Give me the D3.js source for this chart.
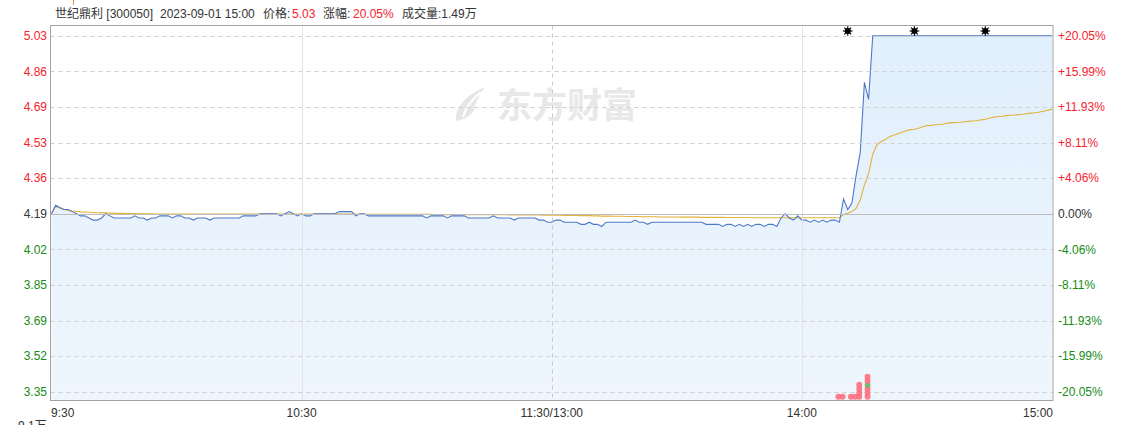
<!DOCTYPE html>
<html><head><meta charset="utf-8">
<script src="https://cdn.jsdelivr.net/npm/d3@7"></script>
<style>
body{margin:0;background:#fff}
svg{display:block}
text{font-family:"Liberation Sans","Noto Sans CJK SC",Arial,sans-serif}
</style>
</head><body><svg id="c" width="1139" height="425"></svg>
<script>
// ---------- data ----------
const prevClose = 4.19;
const priceTickLabels = ["3.35","3.52","3.69","3.85","4.02","4.19","4.36","4.53","4.69","4.86","5.03"];
const pctTickLabels = ["-20.05%","-15.99%","-11.93%","-8.11%","-4.06%","0.00%","+4.06%","+8.11%","+11.93%","+15.99%","+20.05%"];
const timeTicks = [0, 60, 120, 180, 240];
const timeLabels = ["9:30", "10:30", "11:30/13:00", "14:00", "15:00"];

const price = [
4.19,4.23,4.22,4.21,4.21,4.20,4.19,4.18,4.18,4.17,
4.16,4.16,4.17,4.19,4.18,4.17,4.17,4.17,4.17,4.17,
4.18,4.17,4.17,4.16,4.17,4.17,4.18,4.18,4.18,4.17,
4.18,4.18,4.17,4.17,4.16,4.17,4.17,4.17,4.16,4.17,
4.17,4.17,4.17,4.17,4.17,4.17,4.18,4.18,4.18,4.18,
4.19,4.19,4.19,4.19,4.19,4.18,4.19,4.20,4.19,4.18,
4.19,4.18,4.18,4.19,4.19,4.19,4.19,4.19,4.19,4.20,
4.20,4.20,4.20,4.18,4.19,4.19,4.18,4.18,4.18,4.18,
4.18,4.18,4.18,4.18,4.18,4.18,4.18,4.18,4.18,4.18,
4.17,4.18,4.18,4.18,4.18,4.17,4.18,4.18,4.18,4.18,
4.17,4.17,4.17,4.17,4.17,4.17,4.18,4.17,4.17,4.17,
4.17,4.16,4.17,4.17,4.17,4.17,4.17,4.16,4.16,4.15,
4.15,4.16,4.16,4.15,4.15,4.15,4.15,4.14,4.14,4.15,
4.14,4.14,4.13,4.15,4.15,4.15,4.15,4.15,4.15,4.15,
4.16,4.15,4.15,4.14,4.15,4.15,4.15,4.15,4.15,4.15,
4.15,4.15,4.15,4.15,4.15,4.15,4.15,4.14,4.14,4.14,
4.14,4.13,4.14,4.14,4.13,4.14,4.13,4.14,4.13,4.14,
4.14,4.13,4.14,4.14,4.13,4.17,4.19,4.17,4.16,4.18,
4.16,4.16,4.15,4.16,4.15,4.16,4.15,4.16,4.16,4.15,
4.26,4.21,4.24,4.37,4.48,4.81,4.73,5.03,5.03,5.03,
5.03,5.03,5.03,5.03,5.03,5.03,5.03,5.03,5.03,5.03,
5.03,5.03,5.03,5.03,5.03,5.03,5.03,5.03,5.03,5.03,
5.03,5.03,5.03,5.03,5.03,5.03,5.03,5.03,5.03,5.03,
5.03,5.03,5.03,5.03,5.03,5.03,5.03,5.03,5.03,5.03,
5.03
];

const avgPrice = [
4.190,4.224,4.216,4.210,4.206,4.203,4.201,4.199,4.198,4.197,
4.196,4.195,4.194,4.194,4.193,4.193,4.192,4.192,4.191,4.191,
4.191,4.190,4.190,4.190,4.190,4.189,4.189,4.189,4.189,4.189,
4.189,4.189,4.189,4.189,4.189,4.188,4.188,4.188,4.188,4.188,
4.188,4.188,4.188,4.188,4.188,4.188,4.188,4.188,4.188,4.188,
4.188,4.188,4.188,4.188,4.188,4.188,4.188,4.188,4.188,4.188,
4.188,4.188,4.188,4.188,4.188,4.188,4.188,4.188,4.188,4.188,
4.188,4.188,4.188,4.188,4.187,4.187,4.187,4.187,4.187,4.187,
4.187,4.187,4.187,4.187,4.187,4.187,4.187,4.187,4.187,4.187,
4.187,4.187,4.186,4.186,4.186,4.186,4.186,4.186,4.186,4.186,
4.186,4.186,4.185,4.185,4.185,4.185,4.185,4.185,4.185,4.185,
4.184,4.184,4.184,4.184,4.184,4.184,4.184,4.184,4.183,4.183,
4.183,4.183,4.183,4.182,4.182,4.182,4.182,4.181,4.181,4.181,
4.180,4.180,4.179,4.179,4.179,4.178,4.178,4.178,4.177,4.177,
4.177,4.177,4.176,4.176,4.176,4.176,4.175,4.175,4.175,4.175,
4.175,4.174,4.174,4.174,4.174,4.174,4.173,4.173,4.173,4.173,
4.173,4.173,4.172,4.172,4.172,4.172,4.172,4.172,4.171,4.171,
4.171,4.171,4.171,4.171,4.171,4.171,4.171,4.171,4.171,4.171,
4.171,4.171,4.171,4.171,4.171,4.171,4.171,4.171,4.171,4.171,
4.186,4.192,4.200,4.215,4.256,4.325,4.380,4.470,4.516,4.530,
4.540,4.554,4.561,4.568,4.575,4.582,4.587,4.589,4.594,4.601,
4.606,4.607,4.610,4.611,4.614,4.618,4.620,4.621,4.622,4.624,
4.626,4.628,4.630,4.633,4.636,4.641,4.646,4.648,4.650,4.653,
4.655,4.656,4.658,4.660,4.663,4.665,4.667,4.670,4.674,4.679,
4.683
];

const starMinutes = [191, 207, 224];
const dotMinutes = [189, 190, 192, 193, 194, 196];
const dotCounts  = [1, 1, 1, 1, 4, 6];
const greenDotMinute = 196, greenDotLevel = 3;

// header
const stockName = "世纪鼎利 [300050]";
const stockTime = "2023-09-01 15:00";
const lastPrice = "5.03";
const changePct = "20.05%";
const volumeText = "成交量:1.49万";

// ---------- drawing ----------
const svg = d3.select("#c");
const L = 50.5, R = 1053, T = 25.5, B = 400.5;
const x = d3.scaleLinear().domain([0, 240]).range([51.5, 1052]);
const yMin = 3.35, yMax = 5.03;
const y = d3.scaleLinear().domain([yMin, yMax]).range([391.7, 35.8]);
const tickVals = d3.range(11).map(k => yMin + k * (yMax - yMin) / 10);

const red = "#f5222d", green = "#168c16", dark = "#333";

const defs = svg.append("defs");
const grad = defs.append("linearGradient").attr("id","fillg").attr("x1",0).attr("y1",0).attr("x2",0).attr("y2",1);
grad.append("stop").attr("offset","0%").attr("stop-color","#e0effc");
grad.append("stop").attr("offset","100%").attr("stop-color","#eff6fd");
defs.append("clipPath").attr("id","clip").append("rect").attr("x",L).attr("y",T).attr("width",R-L).attr("height",B-T);

// watermark
const wm = svg.append("g");
wm.append("path")
  .attr("d","M456,121 C455,107 466,95 485,87 C479,95 475,103 474,111 C469,117 463,120 456,121 Z")
  .attr("fill","#e6e6e6");
wm.append("path")
  .attr("d","M463,117 C466,107 472,99 481,92")
  .attr("fill","none").attr("stroke","#fff").attr("stroke-width",2.2);
wm.append("text").attr("x",497).attr("y",118).attr("font-size",35).attr("font-weight","bold")
  .attr("fill","#e8e8e8").style("font-family",'"Noto Sans CJK SC",sans-serif').text("东方财富");

// area
const plot = svg.append("g").attr("clip-path","url(#clip)");
plot.append("path").datum(price)
  .attr("d", d3.area().x((d,i)=>x(i)).y0(B).y1(d=>y(d)))
  .attr("fill","url(#fillg)");

// vertical grid
timeTicks.slice(1,4).forEach(t=>{
  const dashed = (t === 120);
  svg.append("line").attr("x1",Math.round(x(t))+0.5).attr("x2",Math.round(x(t))+0.5).attr("y1",T).attr("y2",B)
    .attr("stroke", dashed ? "#c8c8c8" : "#e4e4e4")
    .attr("stroke-dasharray", dashed ? "4,4" : null);
});

// horizontal grid
tickVals.forEach((v,k)=>{
  const yy = Math.round(y(v)) + 0.5;
  svg.append("line").attr("x1",L).attr("x2",R).attr("y1",yy).attr("y2",yy)
    .attr("stroke", k===5 ? "#bdbdbd" : "#cfcfcf")
    .attr("stroke-dasharray", k===5 ? null : "4,4");
});

// avg line
plot.append("path").datum(avgPrice)
  .attr("d", d3.line().x((d,i)=>x(i)).y(d=>y(d)))
  .attr("fill","none").attr("stroke","#e2b23a").attr("stroke-width",1.1);
// price line
plot.append("path").datum(price)
  .attr("d", d3.line().x((d,i)=>x(i)).y(d=>y(d)))
  .attr("fill","none").attr("stroke","#4f78c9").attr("stroke-width",1.1);

// frame
svg.append("rect").attr("x",L).attr("y",T).attr("width",R-L).attr("height",B-T)
  .attr("fill","none").attr("stroke","#a3a3a3");

// axis labels
tickVals.forEach((v,k)=>{
  const c = k>5 ? red : (k<5 ? green : dark);
  svg.append("text").attr("x",47).attr("y",y(v)+4.3).attr("text-anchor","end")
    .attr("font-size",12).attr("fill",c).text(priceTickLabels[k]);
  svg.append("text").attr("x",1058).attr("y",y(v)+4.3).attr("text-anchor","start")
    .attr("font-size",12).attr("fill",c).text(pctTickLabels[k]);
});

// time labels
timeTicks.forEach((t,k)=>{
  const anchor = k===0 ? "start" : (k===timeTicks.length-1 ? "end" : "middle");
  svg.append("text").attr("x", x(t) + (k===0 ? -0.5 : (k===4 ? 1 : 0))).attr("y",417)
    .attr("text-anchor",anchor).attr("font-size",12).attr("fill",dark).text(timeLabels[k]);
});

// stars
starMinutes.forEach(m=>{
  const g = svg.append("g").attr("transform",`translate(${x(m)},31)`);
  g.append("circle").attr("r",3).attr("fill","#000");
  for (let a=0;a<8;a++){
    const ang = a*Math.PI/4;
    g.append("line").attr("x1",0).attr("y1",0).attr("x2",4.8*Math.cos(ang)).attr("y2",4.8*Math.sin(ang))
      .attr("stroke","#000").attr("stroke-width",1.1);
  }
});

// dots
dotMinutes.forEach((m,i)=>{
  for (let k=0;k<dotCounts[i];k++){
    const isGreen = (m===greenDotMinute && k===greenDotLevel);
    svg.append("circle").attr("cx",x(m)-1).attr("cy",B-3.8-k*4).attr("r",3)
      .attr("fill", isGreen ? "#62b462" : "#ff6878").attr("fill-opacity",0.85);
  }
});

// header
const hdr = svg.append("text").attr("y",18).attr("font-size",12).attr("fill",dark);
hdr.append("tspan").attr("x",55).text(stockName);
hdr.append("tspan").attr("x",160).text(stockTime);
hdr.append("tspan").attr("x",263).text("价格: ");
hdr.append("tspan").attr("x",292).attr("fill",red).text(lastPrice);
hdr.append("tspan").attr("x",323).text("涨幅: ");
hdr.append("tspan").attr("x",353).attr("fill",red).text(changePct);
hdr.append("tspan").attr("x",402).text(volumeText);

svg.append("line").attr("x1",73.5).attr("x2",73.5).attr("y1",0).attr("y2",5).attr("stroke","#f08a3c");
// partially visible label at the bottom edge, as in the reference
svg.append("text").attr("x",18).attr("y",430).attr("font-size",12).attr("fill",dark).text("9.1万");
</script>
</body></html>
